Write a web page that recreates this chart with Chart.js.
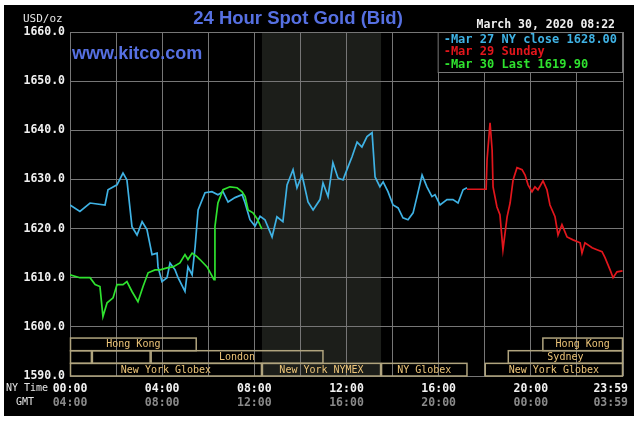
<!DOCTYPE html>
<html>
<head>
<meta charset="utf-8">
<script src="https://cdn.jsdelivr.net/npm/chart.js@4.4.1/dist/chart.umd.min.js"></script>
<style>
  html, body { margin: 0; padding: 0; background: #fff; }
  #wrap { width: 641px; height: 421px; }
</style>
</head>
<body>
<div id="wrap"><canvas id="gold"></canvas></div>
<script>
// hours are NY time, prices are bid in USD/oz
const mar27Hours = [0, 0.43, 0.87, 1.52, 1.65, 2.04, 2.30, 2.47, 2.69, 2.91, 3.13, 3.34, 3.56, 3.78, 3.82, 3.99,
  4.21, 4.34, 4.56, 4.69, 4.99, 5.12, 5.30, 5.43, 5.56, 5.86, 6.16, 6.42, 6.64, 6.86, 7.16, 7.47, 7.60, 7.81,
  8.03, 8.25, 8.46, 8.77, 8.98, 9.24, 9.42, 9.68, 9.85, 10.07, 10.33, 10.55, 10.85, 10.98, 11.20, 11.41, 11.63,
  11.85, 12.07, 12.24, 12.46, 12.67, 12.89, 13.11, 13.24, 13.45, 13.59, 13.80, 14.02, 14.24, 14.45, 14.67,
  14.89, 15.06, 15.28, 15.49, 15.71, 15.84, 16.06, 16.36, 16.62, 16.84, 17.06, 17.23];
const mar27Bid = [1624.8, 1623.5, 1625.2, 1624.8, 1627.9, 1628.9, 1631.3, 1629.9, 1620.4, 1618.7, 1621.4, 1619.8,
  1614.7, 1615.0, 1612.2, 1609.2, 1610.0, 1613.0, 1611.6, 1610.0, 1607.2, 1612.2, 1610.6, 1616.3, 1623.8, 1627.3,
  1627.5, 1626.9, 1627.5, 1625.4, 1626.3, 1626.9, 1625.2, 1621.8, 1620.5, 1622.5, 1621.8, 1618.3, 1622.4, 1621.4,
  1628.9, 1632.0, 1628.3, 1630.9, 1625.4, 1623.8, 1625.9, 1629.3, 1626.5, 1633.4, 1630.3, 1629.9, 1632.6, 1634.6,
  1637.6, 1636.6, 1638.7, 1639.5, 1630.5, 1628.5, 1629.5, 1627.5, 1624.8, 1624.2, 1622.2, 1621.8, 1623.2, 1626.5,
  1630.9, 1628.5, 1626.5, 1626.9, 1624.8, 1625.9, 1625.9, 1625.2, 1627.9, 1628.3];

const mar29Hours = [17.23, 18.06, 18.10, 18.23, 18.32, 18.36, 18.53, 18.66, 18.79, 18.97, 19.10, 19.23, 19.40,
  19.62, 19.75, 19.88, 20.05, 20.18, 20.31, 20.53, 20.70, 20.83, 21.05, 21.18, 21.35, 21.57, 21.83, 22.14, 22.22,
  22.35, 22.66, 22.87, 23.09, 23.22, 23.44, 23.57, 23.74, 23.98];
const mar29Bid = [1628.0, 1628.0, 1634.0, 1641.5, 1636.0, 1628.5, 1624.4, 1622.8, 1615.7, 1622.4, 1625.2, 1629.9,
  1632.4, 1632.0, 1630.9, 1628.9, 1627.5, 1628.5, 1627.9, 1629.7, 1627.9, 1624.8, 1622.4, 1618.7, 1620.8, 1618.3,
  1617.7, 1617.1, 1615.0, 1617.1, 1616.1, 1615.7, 1615.3, 1614.1, 1611.6, 1610.0, 1611.2, 1611.4];

const mar30Hours = [0, 0.43, 0.87, 1.09, 1.30, 1.43, 1.61, 1.87, 2.04, 2.30, 2.47, 2.69, 2.95, 3.17, 3.39, 3.69,
  3.91, 4.21, 4.47, 4.77, 4.99, 5.12, 5.30, 5.51, 5.64, 5.95, 6.25, 6.29, 6.42, 6.64, 6.94, 7.25, 7.47, 7.60,
  7.73, 7.94, 8.12, 8.33];
const mar30Bid = [1610.6, 1610.0, 1610.0, 1608.6, 1608.2, 1602.1, 1604.9, 1605.9, 1608.6, 1608.6, 1609.2, 1607.2,
  1605.1, 1608.2, 1611.0, 1611.6, 1611.6, 1612.0, 1612.2, 1613.0, 1614.7, 1613.7, 1615.0, 1614.3, 1613.7, 1612.2,
  1609.6, 1620.4, 1625.2, 1627.9, 1628.5, 1628.3, 1627.5, 1626.5, 1623.8, 1623.2, 1622.0, 1619.9];

const seriesLabels = ['-Mar 27 NY close 1628.00', '-Mar 29 Sunday', '-Mar 30 Last 1619.90'];
const seriesColors = ['#3fb2e4', '#e2161c', '#2fe22f'];

const tickHours = [0, 4, 8, 12, 16, 20, 24];
const nyTimeLabels = ['00:00', '04:00', '08:00', '12:00', '16:00', '20:00', '23:59'];
const gmtLabels = ['04:00', '08:00', '12:00', '16:00', '20:00', '00:00', '03:59'];

// [name, start hour, end hour, row]
const sessions = [
  ['Hong Kong', 0, 5.5, 0], ['Hong Kong', 20.5, 24, 0],
  ['', 0, 0.95, 1], ['', 0.95, 3.5, 1], ['London', 3.5, 11, 1], ['Sydney', 19, 24, 1],
  ['New York Globex', 0, 8.33, 2], ['New York NYMEX', 8.33, 13.5, 2], ['NY Globex', 13.5, 17.25, 2],
  ['New York Globex', 18, 24, 2]
];

const mono = '"DejaVu Sans Mono", monospace';
const gridColor = '#767676';

function pairs(xs, ys) {
  return xs.map((h, i) => ({ x: h, y: ys[i] }));
}

const kitcoPlugin = {
  id: 'kitco',
  beforeDraw(chart) {
    const ctx = chart.ctx, a = chart.chartArea, xs = chart.scales.x;
    ctx.save();
    ctx.fillStyle = '#fff';
    ctx.fillRect(0, 0, chart.width, chart.height);
    ctx.fillStyle = '#000';
    ctx.fillRect(4, 5, 630, 411);
    const nymex = sessions.find(s => s[0] === 'New York NYMEX');
    const l = xs.getPixelForValue(nymex[1]), r = xs.getPixelForValue(nymex[2]);
    ctx.fillStyle = '#1c1e1a';
    ctx.fillRect(l, a.top, r - l, a.bottom - a.top);
    ctx.restore();
  },
  afterDraw(chart) {
    const ctx = chart.ctx, a = chart.chartArea, xs = chart.scales.x;
    ctx.save();

    // trading sessions along the bottom
    const rowH = (a.bottom - a.top) / 27.2;
    ctx.strokeStyle = '#b0a47e';
    ctx.lineWidth = 1.5;
    ctx.font = '10px ' + mono;
    ctx.textAlign = 'center';
    ctx.textBaseline = 'middle';
    sessions.forEach(s => {
      const l = xs.getPixelForValue(s[1]), r = xs.getPixelForValue(s[2]);
      const top = a.bottom - rowH * (3 - s[3]);
      ctx.strokeRect(l + 0.5, top, r - l - 1, rowH);
      if (s[0]) {
        ctx.fillStyle = '#ecc478';
        ctx.fillText(s[0], (l + r) / 2, top + rowH / 2 + 0.5);
      }
    });

    // time labels
    ctx.font = 'bold 11.5px ' + mono;
    tickHours.forEach((h, i) => {
      let px = xs.getPixelForValue(h);
      ctx.textAlign = 'center';
      if (i === tickHours.length - 1) { ctx.textAlign = 'right'; px += 5; }
      ctx.fillStyle = '#f2f2f2';
      ctx.fillText(nyTimeLabels[i], px, 389);
      ctx.fillStyle = '#8a8a8a';
      ctx.fillText(gmtLabels[i], px, 403);
    });
    ctx.font = '10px ' + mono;
    ctx.fillStyle = '#e6e6e6';
    ctx.textAlign = 'left';
    ctx.fillText('NY Time', 6, 388);
    ctx.fillText('GMT', 16, 402);
    ctx.font = '11px ' + mono;
    ctx.fillText('USD/oz', 23, 19);

    // legend box
    const lx = xs.getPixelForValue(16) - 1;
    ctx.fillStyle = '#000';
    ctx.fillRect(lx, a.top + 1, a.right - lx, 40);
    ctx.strokeStyle = gridColor;
    ctx.lineWidth = 1;
    ctx.strokeRect(lx + 0.5, a.top + 0.5, a.right - lx - 1, 40);
    ctx.font = 'bold 12px ' + mono;
    chart.data.datasets.forEach((ds, i) => {
      ctx.fillStyle = ds.borderColor;
      ctx.fillText(ds.label, lx + 6, a.top + 7.5 + i * 12.6);
    });

    ctx.fillStyle = '#f0f0f0';
    ctx.textAlign = 'right';
    ctx.font = 'bold 11.5px ' + mono;
    ctx.fillText('March 30, 2020 08:22', 615, 25);

    ctx.fillStyle = '#5670e2';
    ctx.textAlign = 'center';
    ctx.font = 'bold 18.5px "Liberation Sans", Arial, sans-serif';
    ctx.fillText('24 Hour Spot Gold (Bid)', 298, 19);
    ctx.textAlign = 'left';
    ctx.font = 'bold 18px "Liberation Sans", Arial, sans-serif';
    ctx.fillText('www.kitco.com', 72, 54);
    ctx.restore();
  }
};

new Chart(document.getElementById('gold'), {
  type: 'line',
  data: {
    datasets: [
      { label: seriesLabels[0], data: pairs(mar27Hours, mar27Bid), borderColor: seriesColors[0], order: 2 },
      { label: seriesLabels[1], data: pairs(mar29Hours, mar29Bid), borderColor: seriesColors[1], order: 1 },
      { label: seriesLabels[2], data: pairs(mar30Hours, mar30Bid), borderColor: seriesColors[2], order: 0 }
    ]
  },
  options: {
    responsive: true,
    maintainAspectRatio: false,
    animation: false,
    events: [],
    layout: { padding: { top: 32, right: 18, bottom: 0, left: 0 } },
    elements: {
      line: { borderWidth: 1.7, tension: 0 },
      point: { radius: 0 }
    },
    plugins: { legend: { display: false }, title: { display: false }, tooltip: { enabled: false } },
    scales: {
      x: {
        type: 'linear',
        min: 0,
        max: 24,
        ticks: { stepSize: 2, display: false },
        grid: { color: gridColor, lineWidth: 1, drawTicks: false },
        border: { display: false },
        afterFit: s => { s.height = 45; }
      },
      y: {
        min: 1590,
        max: 1660,
        ticks: {
          stepSize: 10,
          padding: 5,
          color: '#f0f0f0',
          font: { family: mono, size: 11.5, weight: 'bold' },
          callback: v => v.toFixed(1)
        },
        grid: { color: gridColor, lineWidth: 1, drawTicks: false },
        border: { display: false },
        afterFit: s => { s.width = 70; }
      }
    }
  },
  plugins: [kitcoPlugin]
});
</script>
</body>
</html>
